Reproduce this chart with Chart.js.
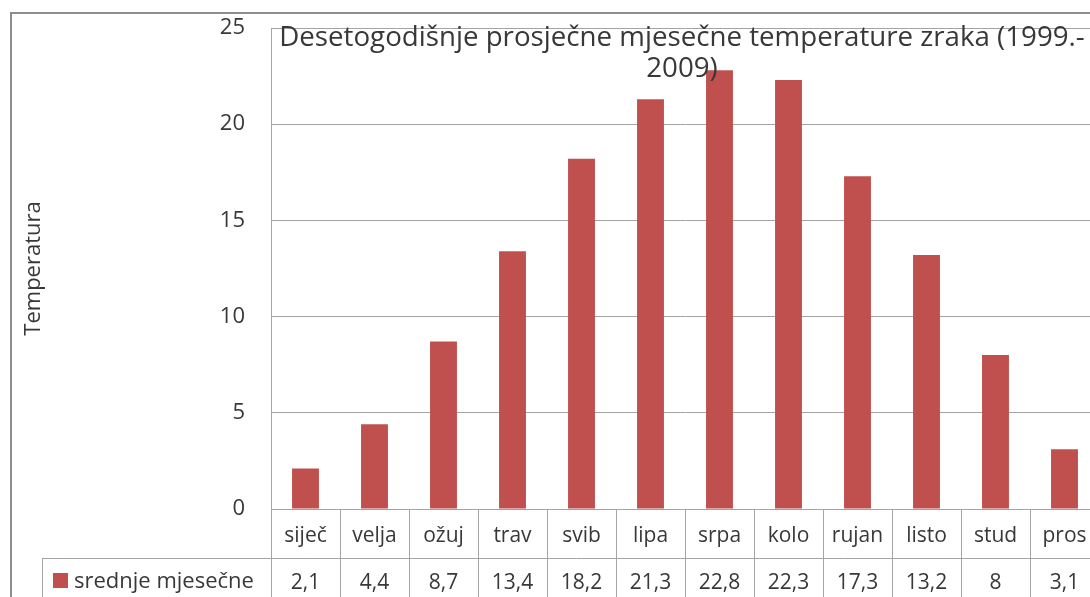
<!DOCTYPE html>
<html>
<head>
<meta charset="utf-8">
<title>Desetogodišnje prosječne mjesečne temperature zraka</title>
<script src="https://cdn.jsdelivr.net/npm/chart.js@4.4.1/dist/chart.umd.min.js"></script>
<style>
  html, body { margin: 0; padding: 0; background: #fff; overflow: hidden; width: 1090px; height: 597px; }
  #frame { position: absolute; left: 10px; top: 12px; width: 1200px; height: 700px;
           border-left: 2px solid #8d8d8d; border-top: 2px solid #8d8d8d; }
  #chart { position: absolute; left: 0; top: 0; }
</style>
</head>
<body>
<div id="frame"></div>
<canvas id="chart" width="1110" height="620"></canvas>
<script>
// data
const months = ['siječ', 'velja', 'ožuj', 'trav', 'svib', 'lipa', 'srpa', 'kolo', 'rujan', 'listo', 'stud', 'pros'];
const temps = [2.1, 4.4, 8.7, 13.4, 18.2, 21.3, 22.8, 22.3, 17.3, 13.2, 8, 3.1];
const seriesName = 'srednje mjesečne';
const yTicks = [0, 5, 10, 15, 20, 25];
const titleLines = ['Desetogodišnje prosječne mjesečne temperature zraka (1999.-', '2009)'];
const yTitle = 'Temperatura';

const FONT = '"Open Sans", Lato, sans-serif';
const textColor = '#383838';
const gridColor = '#a4a4a4';
const barColor = '#c0504d';

const fmt = v => String(v).replace('.', ',');

/*---------------------------------------------------
  Title drawn over the plot (like the Excel chart)
---------------------------------------------------*/
const overlayTitle = {
    id: 'overlayTitle',
    afterDraw(chart) {
        const ctx = chart.ctx;
        const cx = 682;
        ctx.save();
        // size the first line to the width it has in the picture
        ctx.font = '100px ' + FONT;
        const size = 100 * 806 / ctx.measureText(titleLines[0]).width;
        ctx.font = size.toFixed(1) + 'px ' + FONT;
        ctx.fillStyle = textColor;
        ctx.textAlign = 'center';
        ctx.textBaseline = 'alphabetic';
        ctx.fillText(titleLines[0], cx, 46);
        ctx.fillText(titleLines[1], cx, 77);
        ctx.restore();
    }
};

/*---------------------------------------------------
  Data table under the plot
---------------------------------------------------*/
const dataTable = {
    id: 'dataTable',
    afterDraw(chart) {
        const ctx = chart.ctx;
        const a = chart.chartArea;
        const x = chart.scales.x;
        const rowSplit = a.bottom + 49;
        const bottom = chart.height;
        const half = (x.getPixelForValue(1) - x.getPixelForValue(0)) / 2;
        const px = v => Math.round(v) + 0.5;

        ctx.save();
        ctx.strokeStyle = gridColor;
        ctx.lineWidth = 1;
        ctx.beginPath();
        months.forEach((m, i) => {
            const c = x.getPixelForValue(i);
            ctx.moveTo(px(c - half), a.bottom);
            ctx.lineTo(px(c - half), bottom);
            if (i === months.length - 1) {
                ctx.moveTo(px(c + half), a.bottom);
                ctx.lineTo(px(c + half), bottom);
            }
        });
        // row divider and the legend cell
        ctx.moveTo(42, px(rowSplit));
        ctx.lineTo(a.right + 20, px(rowSplit));
        ctx.moveTo(42.5, rowSplit);
        ctx.lineTo(42.5, bottom);
        ctx.stroke();

        ctx.fillStyle = textColor;
        ctx.textAlign = 'center';
        ctx.textBaseline = 'middle';
        ctx.font = '21px ' + FONT;
        months.forEach((m, i) => {
            const c = x.getPixelForValue(i);
            ctx.fillText(m, c, a.bottom + 27);
            ctx.fillText(fmt(temps[i]), c, rowSplit + 25);
        });

        // legend key
        ctx.fillStyle = barColor;
        ctx.fillRect(53, rowSplit + 15, 15, 15);
        ctx.fillStyle = textColor;
        ctx.textAlign = 'left';
        ctx.font = '22px ' + FONT;
        ctx.fillText(seriesName, 74, rowSplit + 24);
        ctx.restore();
    }
};

const ctx = document.getElementById('chart');

const tempChart = new Chart(ctx, {
    type: 'bar',
    plugins: [dataTable, overlayTitle],
    data: {
        labels: months,
        datasets: [{
            label: seriesName,
            data: temps,
            backgroundColor: barColor,
            borderWidth: 0,
            categoryPercentage: 1,
            barPercentage: 0.39
        }]
    },
    options: {
        responsive: false,
        animation: false,
        devicePixelRatio: 1,
        layout: {
            padding: { left: 0, top: 28, right: 11, bottom: 111 }
        },
        plugins: {
            legend: { display: false },
            title: { display: false },
            tooltip: { enabled: false }
        },
        scales: {
            x: {
                display: false
            },
            y: {
                min: 0,
                max: 25,
                afterBuildTicks: s => { s.ticks = yTicks.map(v => ({ value: v })); },
                afterFit: s => {
                    s.width = 271;
                    s.paddingTop = 0;
                    s.paddingBottom = 0;
                },
                grid: { color: gridColor, drawTicks: false },
                border: { color: gridColor },
                ticks: {
                    padding: 26,
                    color: textColor,
                    font: { family: FONT, size: 22 }
                },
                title: {
                    display: true,
                    text: yTitle,
                    color: textColor,
                    font: { family: FONT, size: 22 },
                    padding: { top: 21, bottom: 0 }
                }
            }
        }
    }
});
</script>
</body>
</html>
